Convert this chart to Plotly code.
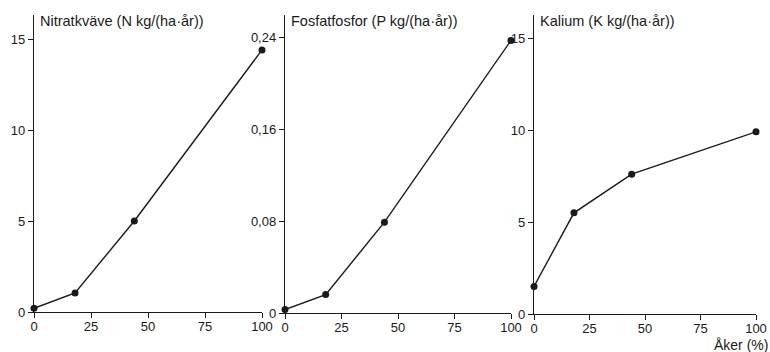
import plotly.graph_objects as go

# Share of arable land (%) in the catchment
aker = [0, 18, 44, 100]

# Leaching per nutrient, kg/(ha·år)
nitrat = [0.2, 1.05, 5.0, 14.4]
fosfat = [0.003, 0.016, 0.079, 0.237]
kalium = [1.5, 5.5, 7.6, 9.9]

titles = ["Nitratkväve (N kg/(ha·år))",
          "Fosfatfosfor (P kg/(ha·år))",
          "Kalium (K kg/(ha·år))"]

x_ticks = [0, 25, 50, 75, 100]
y_ticks_n = [0, 5, 10, 15]
y_ticks_p = [0, 0.08, 0.16, 0.24]
y_ticktext_p = ["0", "0,08", "0,16", "0,24"]
y_ticks_k = [0, 5, 10, 15]

W, H = 770, 352
FONT = "Liberation Sans"
INK = "#1a1a1a"

series = [nitrat, fosfat, kalium]
# panel pixel boxes: (x_left, x_right, y_zero, y_top)
boxes = [(34, 262, 312, 15), (285, 511, 313, 15), (534, 756, 314, 15)]
# data value at the top of each y axis
y_tops = [(312 - 15) / 18.2, (313 - 15) / 1150.0, (314 - 15) / 18.4]

fig = go.Figure()
for i, (vals, box) in enumerate(zip(series, boxes)):
    n = "" if i == 0 else str(i + 1)
    fig.add_trace(go.Scatter(
        x=aker, y=vals, mode="lines+markers",
        line=dict(color=INK, width=1.4),
        marker=dict(color=INK, size=7),
        cliponaxis=False, showlegend=False,
        xaxis="x" + n, yaxis="y" + n,
    ))
    xl, xr, y0, yt = box
    xdom = [xl / W, xr / W]
    ydom = [(H - y0) / H, (H - yt) / H]
    common = dict(showline=True, linecolor=INK, linewidth=1.4,
                  ticks="outside", tickcolor=INK, tickwidth=1.2,
                  showgrid=False, zeroline=False, automargin=False,
                  tickfont=dict(family=FONT, size=13, color=INK))
    fig.layout["xaxis" + n] = dict(domain=xdom, range=[0, 100], anchor="y" + n,
                                   tickvals=x_ticks, ticklen=5,
                                   ticklabelstandoff=-3, **common)
    if i == 1:
        yt_vals, yt_text = y_ticks_p, y_ticktext_p
    else:
        yt_vals = y_ticks_n if i == 0 else y_ticks_k
        yt_text = [str(v) for v in yt_vals]
    fig.layout["yaxis" + n] = dict(domain=ydom, range=[0, y_tops[i]], anchor="x" + n,
                                   tickvals=yt_vals, ticktext=yt_text, ticklen=5,
                                   **common)
    fig.add_annotation(text=titles[i], xref="paper", yref="paper",
                       x=(xl + 4) / W, y=(H - 21) / H, xanchor="left", yanchor="middle",
                       showarrow=False,
                       font=dict(family=FONT, size=14.5, color=INK))

fig.add_annotation(text="Åker (%)", xref="paper", yref="paper",
                   x=770 / W, y=(H - 345) / H, xanchor="right", yanchor="middle",
                   showarrow=False, font=dict(family=FONT, size=14, color=INK))

fig.update_layout(width=W, height=H, margin=dict(l=0, r=0, t=0, b=0),
                  paper_bgcolor="white", plot_bgcolor="white")
fig.write_html("out.html")
